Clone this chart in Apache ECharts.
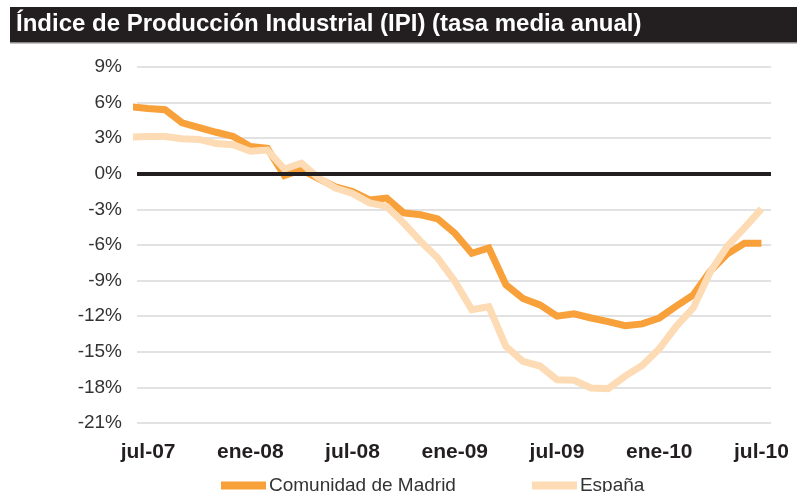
<!DOCTYPE html>
<html>
<head>
<meta charset="utf-8">
<script src="https://cdn.jsdelivr.net/npm/echarts@6/dist/echarts.min.js"></script>
<style>
html,body{margin:0;padding:0;background:#fff;}
#chart{width:797px;height:492px;}
</style>
</head>
<body>
<div id="chart"></div>
<script>
// Months (index 0 = jun-07, partly outside the visible axis range)
var months = ['jun-07','jul-07','ago-07','sep-07','oct-07','nov-07','dic-07',
  'ene-08','feb-08','mar-08','abr-08','may-08','jun-08','jul-08','ago-08','sep-08','oct-08','nov-08','dic-08',
  'ene-09','feb-09','mar-09','abr-09','may-09','jun-09','jul-09','ago-09','sep-09','oct-09','nov-09','dic-09',
  'ene-10','feb-10','mar-10','abr-10','may-10','jun-10','jul-10'];
var tickMonths = ['jul-07','ene-08','jul-08','ene-09','jul-09','ene-10','jul-10'];
var madrid = [5.65,5.5,5.4,4.3,3.9,3.5,3.15,2.3,2.15,-0.15,0.35,-0.4,-1.1,-1.5,-2.2,-2.05,-3.3,-3.45,-3.8,-5.0,-6.7,-6.25,
  -9.35,-10.5,-11.05,-12.0,-11.8,-12.15,-12.45,-12.8,-12.65,-12.15,-11.15,-10.2,-8.2,-6.75,-5.85,-5.85];
var espana = [3.1,3.15,3.15,2.95,2.9,2.55,2.45,1.9,2.0,0.4,0.9,-0.35,-1.2,-1.65,-2.45,-2.75,-4.15,-5.7,-7.1,-9.05,-11.45,-11.2,
  -14.55,-15.8,-16.2,-17.35,-17.4,-18.05,-18.1,-17.05,-16.15,-14.75,-12.85,-11.3,-8.25,-6.1,-4.55,-2.95];
var yTicks = [-21,-18,-15,-12,-9,-6,-3,0,3,6,9];
var titleText = 'Índice de Producción Industrial (IPI) (tasa media anual)';
var seriesNames = ['Comunidad de Madrid','España'];

function pairs(arr){ return arr.map(function(v,i){ return [i,v]; }); }
var tickIdx = tickMonths.map(function(m){ return months.indexOf(m); });

var chart = echarts.init(document.getElementById('chart'), null, {renderer:'canvas'});
chart.setOption({
  animation:false,
  backgroundColor:'#ffffff',
  textStyle:{fontFamily:'"Liberation Sans", Arial, Helvetica, sans-serif'},
  graphic:[
    {type:'rect', left:10, top:7, shape:{width:787, height:35}, style:{fill:'#231f20'}, z:10},
    {type:'rect', left:10, top:42, shape:{width:787, height:1.5}, style:{fill:'#8a8a8a'}, z:10},
    {type:'text', left:16, top:12, z:11,
      style:{text:titleText, fill:'#ffffff', font:'bold 24px "Liberation Sans", Arial, sans-serif'}}
  ],
  grid:{left:137, right:26, top:67, bottom:69, containLabel:false},
  legend:{
    data:seriesNames, left:216, top:471, icon:'rect', itemWidth:45, itemHeight:8, itemGap:76,
    textStyle:{fontSize:19, color:'#333333', fontFamily:'"Liberation Sans", Arial, sans-serif', padding:[0,0,0,-2]}
  },
  xAxis:{
    type:'value', min:0.35, max:37.56,
    axisLine:{show:false}, axisTick:{show:false}, splitLine:{show:false},
    axisLabel:{
      customValues:tickIdx, margin:19, fontSize:21, fontWeight:'bold', color:'#231f20',
      formatter:function(v){ return months[Math.round(v)] || ''; }
    }
  },
  yAxis:{
    type:'value', min:-21, max:9, interval:3,
    axisLine:{show:false}, axisTick:{show:false},
    splitLine:{lineStyle:{color:'#d9d9d9', width:1.5}},
    axisLabel:{margin:15, fontSize:19, color:'#333333', formatter:function(v){ return v + '%'; }}
  },
  series:[
    {name:'zero', type:'line', data:[], z:1, silent:true,
      markLine:{silent:true, symbol:'none', label:{show:false},
        lineStyle:{color:'#231f20', width:4, type:'solid'},
        data:[{yAxis:0}]}},
    {name:seriesNames[0], type:'line', data:pairs(madrid), showSymbol:false, symbol:'none', z:3,
      lineStyle:{color:'#F8A03A', width:7, join:'miter'}, itemStyle:{color:'#F8A03A'}},
    {name:seriesNames[1], type:'line', data:pairs(espana), showSymbol:false, symbol:'none', z:4,
      lineStyle:{color:'#FDDBB4', width:7, join:'miter'}, itemStyle:{color:'#FDDBB4'}}
  ]
});
</script>
</body>
</html>
